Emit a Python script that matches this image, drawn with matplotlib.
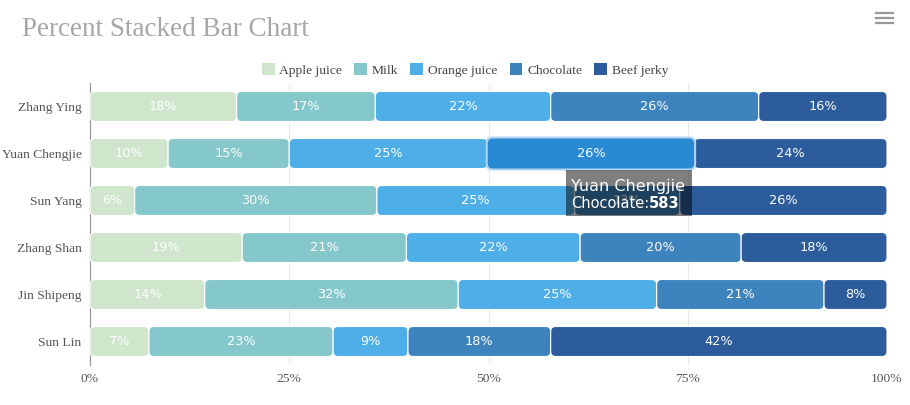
import matplotlib
matplotlib.use("Agg")
import matplotlib.pyplot as plt
from matplotlib.patches import FancyBboxPatch, Rectangle

# data (percent of each person's total)
people = ["Zhang Ying", "Yuan Chengjie", "Sun Yang", "Zhang Shan", "Jin Shipeng", "Sun Lin"]
series = ["Apple juice", "Milk", "Orange juice", "Chocolate", "Beef jerky"]
apple_juice = [18.4, 9.8, 5.6, 19.1, 14.4, 7.4]
milk = [17.4, 15.2, 30.4, 20.6, 31.8, 23.1]
orange_juice = [22.0, 24.9, 24.8, 21.8, 24.9, 9.4]
chocolate = [26.1, 25.9, 13.2, 20.2, 21.0, 17.9]
beef_jerky = [16.1, 24.2, 26.0, 18.3, 7.9, 42.2]
xticks = [0, 25, 50, 75, 100]
tooltip_name = "Yuan Chengjie"
tooltip_value = 583

colors = ["#cfe6cc", "#85c8cb", "#4daee8", "#3d83bd", "#2c5c9c"]
values = [apple_juice, milk, orange_juice, chocolate, beef_jerky]

W, H = 910, 405
fig = plt.figure(figsize=(W / 100, H / 100), dpi=100)
ax = fig.add_axes([90 / W, 1 - 365 / H, 797 / W, 282 / H])

n = len(people)
ypos = list(range(n))[::-1]
bar_h = 30 / 47
# px -> data units
px_x = 100 / 797
px_y = 1 / 47
rad = 5 * px_x
aspect = px_y / px_x

ax.set_xlim(0, 100)
ax.set_ylim(-0.5, n - 0.5)
for t in xticks[1:]:
    ax.axvline(t, color="#e8e8e8", lw=0.8, zorder=0)

hl_person, hl_series = 1, 3
left = [0.0] * n
for s, (name, vals, col) in enumerate(zip(series, values, colors)):
    for i in range(n):
        x0 = left[i]
        w = vals[i]
        y0 = ypos[i] - bar_h / 2
        fc, ec = col, "white"
        if i == hl_person and s == hl_series:
            fc, ec = "#2a89d3", "none"
            halo = FancyBboxPatch((x0 - 2 * px_x, y0 - 2 * px_y), w + 4 * px_x, bar_h + 4 * px_y,
                                  boxstyle=f"round,pad=0,rounding_size={rad * 1.3}",
                                  mutation_aspect=aspect, fc="#b3d5f0", ec="none", zorder=3.5)
            ax.add_patch(halo)
        p = FancyBboxPatch((x0, y0), w, bar_h,
                           boxstyle=f"round,pad=0,rounding_size={rad}",
                           mutation_aspect=aspect, fc=fc, ec=ec, lw=0.8,
                           zorder=3.6 if ec == "none" else 3)
        ax.add_patch(p)
        ax.text(x0 + w / 2, ypos[i], f"{round(w)}%", ha="center", va="center",
                color="white", fontsize=9.3, family="DejaVu Sans", zorder=4)
        left[i] += w
    ax.add_patch(Rectangle((0, 0), 0, 0, fc=col, label=name))

ax.set_yticks(ypos)
ax.set_yticklabels(people, family="Liberation Serif", fontsize=9.7, color="#555555")
ax.set_xticks(xticks)
ax.set_xticklabels([f"{t}%" for t in xticks], family="Liberation Serif", fontsize=9.7, color="#555555")
ax.tick_params(length=0, pad=6)
for sp in ["top", "right", "bottom"]:
    ax.spines[sp].set_visible(False)
ax.spines["left"].set_color("#999999")
ax.spines["left"].set_linewidth(0.9)

leg = fig.legend(loc="center", bbox_to_anchor=(465 / W, 1 - 70 / H), ncol=5, frameon=False,
                 prop={"family": "Liberation Serif", "size": 9.7}, handlelength=0.95,
                 handleheight=0.95, handletextpad=0.35, columnspacing=0.9, borderaxespad=0)
for t in leg.get_texts():
    t.set_color("#444444")

fig.text(22 / W, 1 - 30 / H, "Percent Stacked Bar Chart", family="Liberation Serif",
         fontsize=19.5, color="#a6a6a6", va="center", ha="left")

# menu icon
for yy in [13, 18, 23]:
    fig.add_artist(plt.Line2D([876 / W, 893 / W], [1 - yy / H, 1 - yy / H], color="#999999", lw=1.6))

# tooltip
tx0, ty0, tx1, ty1 = 566, 170, 692, 216
fig.add_artist(Rectangle((tx0 / W, 1 - ty1 / H), (tx1 - tx0) / W, (ty1 - ty0) / H,
                         transform=fig.transFigure, fc="black", alpha=0.5, ec="none", zorder=10))
fig.text(571 / W, 1 - 186 / H, tooltip_name, color="white", fontsize=11.5,
         family="DejaVu Sans", va="center", zorder=11)
t1 = fig.text(571 / W, 1 - 204 / H, "Chocolate:", color="white", fontsize=10.5,
              family="DejaVu Sans", va="center", zorder=11)
fig.canvas.draw()
bb = t1.get_window_extent()
fig.text(bb.x1 / W, 1 - 204 / H, f"{tooltip_value}", color="white", fontsize=10.5,
         family="DejaVu Sans", weight="bold", va="center", zorder=11)

fig.savefig("out.png", dpi=100)
